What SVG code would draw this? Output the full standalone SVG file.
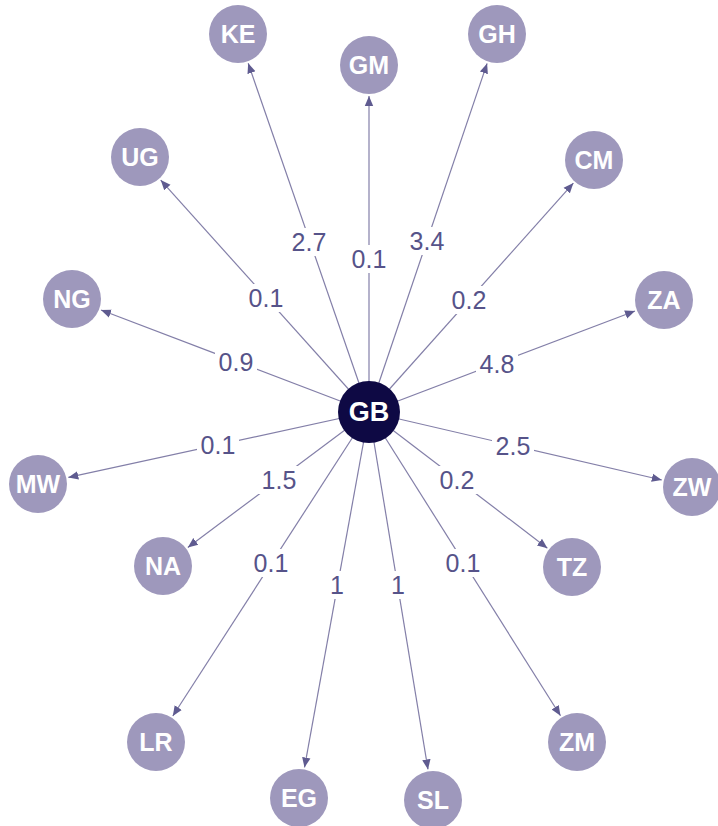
<svg xmlns="http://www.w3.org/2000/svg" width="718" height="826" viewBox="0 0 718 826">
<defs>
<marker id="arr" viewBox="0 0 10 10" refX="10" refY="5" markerWidth="10" markerHeight="10" markerUnits="userSpaceOnUse" orient="auto">
<path d="M0,0.8 L10,5 L0,9.2 z" fill="#5f5b90"/>
</marker>
<style>
.e{stroke:#837fa8;stroke-width:1.2;fill:none;marker-end:url(#arr)}
.bg{fill:#fff}
.el{font-family:"Liberation Sans",Arial,sans-serif;font-size:25px;fill:#565389;text-anchor:middle;dominant-baseline:central}
.n circle{fill:#9e98bc}
.n text{font-family:"Liberation Sans",Arial,sans-serif;font-size:25px;font-weight:bold;fill:#fff;text-anchor:middle;dominant-baseline:central}
</style>
</defs>
<rect width="718" height="826" fill="#fff"/>
<g id="connectors">
<path class="e" d="M369,412 L248.2,63.3"/>
<path class="e" d="M369,412 L369,96"/>
<path class="e" d="M369,412 L487.1,63.4"/>
<path class="e" d="M369,412 L160.7,180.1"/>
<path class="e" d="M369,412 L573.4,183.1"/>
<path class="e" d="M369,412 L101,310"/>
<path class="e" d="M369,412 L635,311"/>
<path class="e" d="M369,412 L68.3,477.4"/>
<path class="e" d="M369,412 L661.8,480"/>
<path class="e" d="M369,412 L187.8,547.4"/>
<path class="e" d="M369,412 L547.4,548.2"/>
<path class="e" d="M369,412 L172.8,716"/>
<path class="e" d="M369,412 L560.5,715.8"/>
<path class="e" d="M369,412 L304.5,767.5"/>
<path class="e" d="M369,412 L428,769.4"/>
<rect class="bg" x="288" y="228" width="42" height="28"/>
<rect class="bg" x="348" y="245" width="42" height="28"/>
<rect class="bg" x="406" y="227" width="42" height="28"/>
<rect class="bg" x="245" y="284" width="42" height="28"/>
<rect class="bg" x="448" y="286" width="42" height="28"/>
<rect class="bg" x="215" y="348" width="42" height="28"/>
<rect class="bg" x="476" y="350" width="42" height="28"/>
<rect class="bg" x="197" y="431" width="42" height="28"/>
<rect class="bg" x="492" y="432" width="42" height="28"/>
<rect class="bg" x="258" y="466" width="42" height="28"/>
<rect class="bg" x="436" y="466" width="42" height="28"/>
<rect class="bg" x="250" y="549" width="42" height="28"/>
<rect class="bg" x="327" y="571" width="20" height="28"/>
<rect class="bg" x="388" y="571" width="20" height="28"/>
<rect class="bg" x="442" y="549" width="42" height="28"/>
<text class="el" x="309" y="242">2.7</text>
<text class="el" x="369" y="259">0.1</text>
<text class="el" x="427" y="241">3.4</text>
<text class="el" x="266" y="298">0.1</text>
<text class="el" x="469" y="300">0.2</text>
<text class="el" x="236" y="362">0.9</text>
<text class="el" x="497" y="364">4.8</text>
<text class="el" x="218" y="445">0.1</text>
<text class="el" x="513" y="446">2.5</text>
<text class="el" x="279" y="480">1.5</text>
<text class="el" x="457" y="480">0.2</text>
<text class="el" x="271" y="563">0.1</text>
<text class="el" x="337" y="585">1</text>
<text class="el" x="398" y="585">1</text>
<text class="el" x="463" y="563">0.1</text>
</g>
<g id="node-KE" class="n"><circle cx="238" cy="34" r="29"/><text x="238" y="34">KE</text></g>
<g id="node-GM" class="n"><circle cx="369" cy="65" r="29"/><text x="369" y="65">GM</text></g>
<g id="node-GH" class="n"><circle cx="497" cy="34" r="29"/><text x="497" y="34">GH</text></g>
<g id="node-UG" class="n"><circle cx="140" cy="157" r="29"/><text x="140" y="157">UG</text></g>
<g id="node-CM" class="n"><circle cx="594" cy="160" r="29"/><text x="594" y="160">CM</text></g>
<g id="node-NG" class="n"><circle cx="72" cy="299" r="29"/><text x="72" y="299">NG</text></g>
<g id="node-ZA" class="n"><circle cx="664" cy="300" r="29"/><text x="664" y="300">ZA</text></g>
<g id="node-MW" class="n"><circle cx="38" cy="484" r="29"/><text x="38" y="484">MW</text></g>
<g id="node-ZW" class="n"><circle cx="692" cy="487" r="29"/><text x="692" y="487">ZW</text></g>
<g id="node-NA" class="n"><circle cx="163" cy="566" r="29"/><text x="163" y="566">NA</text></g>
<g id="node-TZ" class="n"><circle cx="572" cy="567" r="29"/><text x="572" y="567">TZ</text></g>
<g id="node-LR" class="n"><circle cx="156" cy="742" r="29"/><text x="156" y="742">LR</text></g>
<g id="node-ZM" class="n"><circle cx="577" cy="742" r="29"/><text x="577" y="742">ZM</text></g>
<g id="node-EG" class="n"><circle cx="299" cy="798" r="29"/><text x="299" y="798">EG</text></g>
<g id="node-SL" class="n"><circle cx="433" cy="800" r="29"/><text x="433" y="800">SL</text></g>
<g id="node-GB" class="n"><circle cx="369" cy="412" r="31" style="fill:#0e0944"/><text x="369" y="412" style="font-size:27px">GB</text></g>
</svg>
